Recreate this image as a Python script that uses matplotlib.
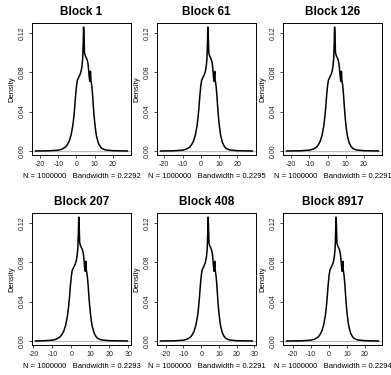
import matplotlib
matplotlib.use('Agg')
import matplotlib.pyplot as plt

plt.rcParams['font.family'] = ['Liberation Sans', 'DejaVu Sans']
plt.rcParams['axes.unicode_minus'] = False

# values
blocks = ['Block 1', 'Block 61', 'Block 126', 'Block 207', 'Block 408', 'Block 8917']
bandwidths = ['0.2292', '0.2295', '0.2291', '0.2293', '0.2291', '0.2294']
n_obs = 1000000
support_lo = [-22.4, -22.0, -22.5, -18.8, -22.9, -23.5]
support_hi = [27.9, 28.3, 28.0, 29.5, 28.9, 27.4]
x_ticks = [[-20, -10, 0, 10, 20]] * 3 + [[-20, -10, 0, 10, 20, 30]] * 2 + [[-20, -10, 0, 10, 20]]
y_ticks = [0.00, 0.04, 0.08, 0.12]

# shape of the density curve (same look in all blocks)
dens_x = [-15, -10, -8, -6, -5, -4, -3, -2, -1.5, -1, -0.5, 0, 0.5, 1, 1.5, 2, 2.5,
          3, 3.4, 3.7, 3.9, 4.1, 4.4, 4.8, 5.3, 5.8, 6.3, 6.7, 7.0, 7.3, 7.5, 7.7,
          7.9, 8.1, 8.4, 8.8, 9.2, 9.6, 10, 10.5, 11, 12, 13, 14, 16, 20]
dens_y = [0.0002, 0.0008, 0.0018, 0.004, 0.0065, 0.010, 0.016, 0.026, 0.034, 0.044,
          0.056, 0.066, 0.072, 0.074, 0.076, 0.078, 0.081, 0.086, 0.094, 0.110, 0.126,
          0.118, 0.100, 0.097, 0.095, 0.093, 0.089, 0.082, 0.075, 0.071, 0.078, 0.081,
          0.072, 0.070, 0.066, 0.058, 0.047, 0.037, 0.029, 0.021, 0.015, 0.008, 0.0045,
          0.0025, 0.001, 0.0003]

W, H = 391, 375
fig = plt.figure(figsize=(W / 100, H / 100), dpi=100)

lefts = [32, 157, 283]
tops = [23, 213]
bw, bh = 99, 132

for i, name in enumerate(blocks):
    r, c = divmod(i, 3)
    ax = fig.add_axes([lefts[c] / W, 1 - (tops[r] + bh) / H, bw / W, bh / H])
    xs = [support_lo[i]] + dens_x + [support_hi[i]]
    ys = [0.0] + dens_y + [0.0]
    ax.axhline(0, color='#bebebe', lw=0.9, zorder=1)
    ax.plot(xs, ys, color='black', lw=1.1, zorder=2)
    pad = 0.04 * (support_hi[i] - support_lo[i])
    ax.set_xlim(support_lo[i] - pad, support_hi[i] + pad)
    ax.set_ylim(-0.0041, 0.1302)
    ax.set_xticks(x_ticks[i])
    ax.set_yticks(y_ticks)
    ax.set_yticklabels(['%.2f' % v for v in y_ticks])
    ax.tick_params(direction='out', length=2.2, width=0.6, labelsize=5, pad=2, colors='#222222')
    plt.setp(ax.get_yticklabels(), rotation=90, va='center', ha='right')
    for s in ax.spines.values():
        s.set_linewidth(0.7)
    ax.set_title(name, fontsize=8.5, fontweight='bold', pad=6)
    ax.set_ylabel('Density', fontsize=5.5, labelpad=3)
    ax.set_xlabel('N = %d   Bandwidth = %s' % (n_obs, bandwidths[i]), fontsize=5.5, labelpad=4)

fig.savefig('out.png', dpi=100)
